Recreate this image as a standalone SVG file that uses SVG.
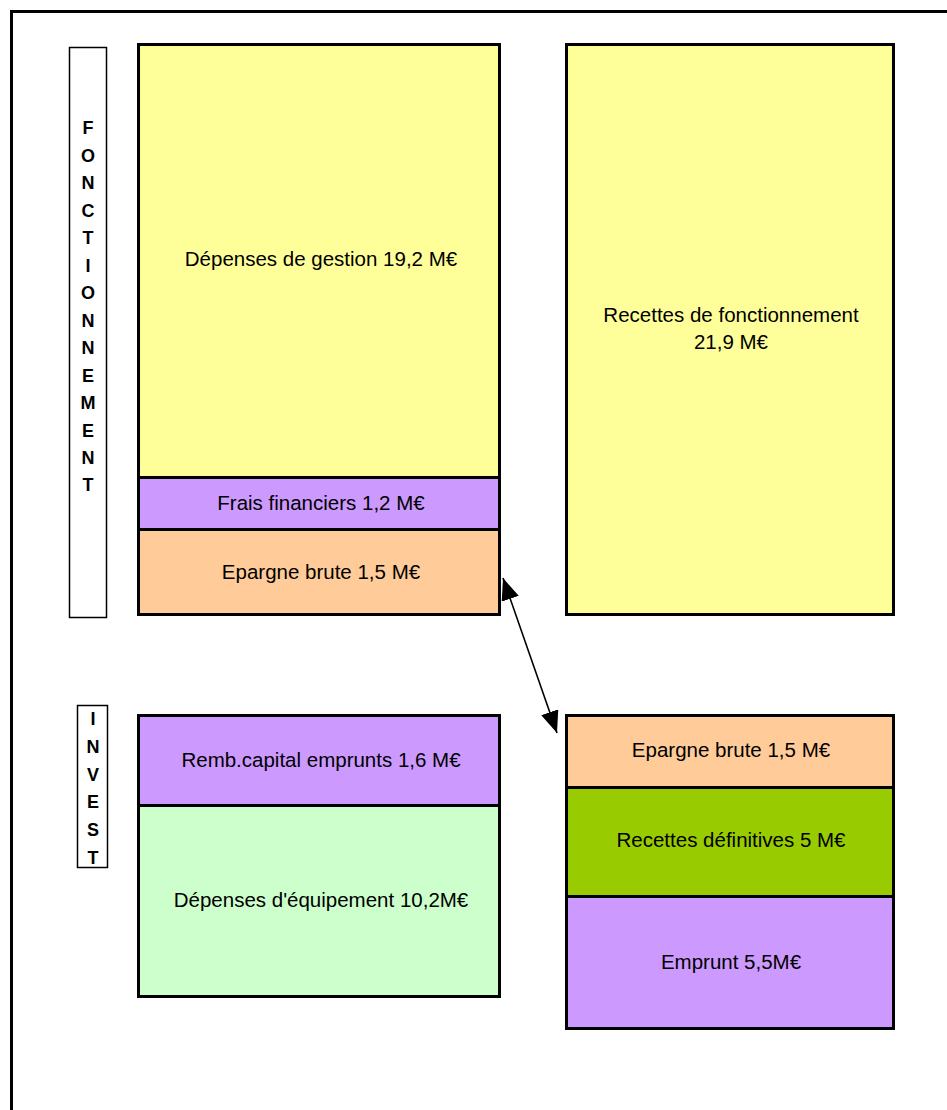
<svg xmlns="http://www.w3.org/2000/svg" width="947" height="1110" viewBox="0 0 947 1110">
<style>
.blk{stroke:#000;stroke-width:3}
.y{fill:#FFFF99}.p{fill:#CC99FF}.o{fill:#FFCC99}.lg{fill:#CCFFCC}.g{fill:#99CC00}
.t{font-family:"Liberation Sans",Arial,sans-serif;font-size:20.5px;fill:#000;text-anchor:middle}
.v{font-family:"Liberation Sans",Arial,sans-serif;font-size:18px;font-weight:bold;fill:#000;text-anchor:middle}
.lbl{fill:#fff;stroke:#000;stroke-width:1.5}
</style>
<defs>
<marker id="ah" markerUnits="userSpaceOnUse" markerWidth="24" markerHeight="20" refX="22" refY="9" orient="auto-start-reverse" viewBox="0 0 24 20">
<path d="M0,0 L22,9 L0,18 Z" fill="#000"/>
</marker>
</defs>
<rect x="11.5" y="11.5" width="1000" height="1200" fill="#fff" stroke="#000" stroke-width="3"/>

<g id="label-fonctionnement">
<rect class="lbl" x="69.5" y="47.5" width="37" height="570"/>
<text class="v" x="88" y="134">F</text>
<text class="v" x="88" y="161.5">O</text>
<text class="v" x="88" y="189">N</text>
<text class="v" x="88" y="216.5">C</text>
<text class="v" x="88" y="244">T</text>
<text class="v" x="88" y="271.5">I</text>
<text class="v" x="88" y="299">O</text>
<text class="v" x="88" y="326.5">N</text>
<text class="v" x="88" y="354">N</text>
<text class="v" x="88" y="381.5">E</text>
<text class="v" x="88" y="409">M</text>
<text class="v" x="88" y="436.5">E</text>
<text class="v" x="88" y="464">N</text>
<text class="v" x="88" y="491">T</text>
</g>

<g id="label-invest">
<rect class="lbl" x="77.5" y="705.5" width="30" height="162"/>
<text class="v" x="93" y="725">I</text>
<text class="v" x="93" y="753">N</text>
<text class="v" x="93" y="780.5">V</text>
<text class="v" x="93" y="808">E</text>
<text class="v" x="93" y="836">S</text>
<text class="v" x="93" y="864">T</text>
</g>

<g id="depenses-gestion">
<rect class="blk y" x="138.5" y="44.5" width="361" height="433"/>
<text class="t" x="321" y="266">Dépenses de gestion 19,2 M€</text>
</g>
<g id="frais-financiers">
<rect class="blk p" x="138.5" y="477.5" width="361" height="52"/>
<text class="t" x="321" y="510">Frais financiers 1,2 M€</text>
</g>
<g id="epargne-brute-fonct">
<rect class="blk o" x="138.5" y="529.5" width="361" height="85"/>
<text class="t" x="321" y="579">Epargne brute 1,5 M€</text>
</g>

<g id="recettes-fonct">
<rect class="blk y" x="566.5" y="44.5" width="327" height="570"/>
<text class="t" x="731" y="322">Recettes de fonctionnement</text>
<text class="t" x="731" y="349">21,9 M€</text>
</g>

<g id="remb-capital">
<rect class="blk p" x="138.5" y="715.5" width="361" height="90"/>
<text class="t" x="321" y="767">Remb.capital emprunts 1,6 M€</text>
</g>
<g id="depenses-equipement">
<rect class="blk lg" x="138.5" y="805.5" width="361" height="191"/>
<text class="t" x="321" y="907">Dépenses d'équipement 10,2M€</text>
</g>

<g id="epargne-brute-invest">
<rect class="blk o" x="566.5" y="715.5" width="327" height="72"/>
<text class="t" x="731" y="757">Epargne brute 1,5 M€</text>
</g>
<g id="recettes-definitives">
<rect class="blk g" x="566.5" y="787.5" width="327" height="109"/>
<text class="t" x="731" y="847">Recettes définitives 5 M€</text>
</g>
<g id="emprunt">
<rect class="blk p" x="566.5" y="896.5" width="327" height="132"/>
<text class="t" x="731" y="969">Emprunt 5,5M€</text>
</g>

<g id="connectors">
<line x1="503" y1="578" x2="557" y2="733" stroke="#000" stroke-width="1.6" marker-start="url(#ah)" marker-end="url(#ah)"/>
</g>
</svg>
